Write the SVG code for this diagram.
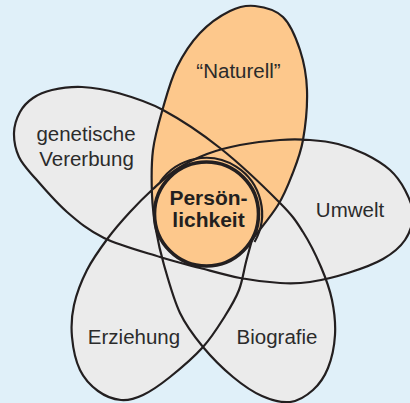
<svg xmlns="http://www.w3.org/2000/svg" xmlns:xlink="http://www.w3.org/1999/xlink" width="410" height="403" viewBox="0 0 410 403">
<style>
.bg{fill:#e0f0f9}
.petal{fill:#ebebeb}
.orange{fill:#fdc88c}
.line{fill:none;stroke:#231f20;stroke-width:2.2;stroke-linejoin:round}
.core{fill:#fdc88c;stroke:#231f20;stroke-width:3.6}
.lbl{font-family:"Liberation Sans",Arial,Helvetica,sans-serif;font-size:20.5px;fill:#2b2b2b;text-anchor:middle}
.core-lbl{font-weight:bold;font-size:21px;fill:#231f20}
</style>
<defs>
<path id="star" d="M 252,240 C 250,247.33 248.17,253.67 246,262 S 242.5,281 239,290 S 231,306.5 225,316 S 212.17,336.83 203,347 S 180,369 170,377 S 151.17,391.17 143,395 S 128.5,400.67 121,400 S 104.83,396 98,391 S 84.33,379 80,370 S 73,347.83 72,337 S 71.5,316.17 74,305 S 81.33,281.17 87,270 S 100.83,247.67 108,238 S 122.5,220.17 130,212 S 145.17,196.17 153,189 S 168,174.83 177,169 S 196.5,158 207,154 S 227.83,147.33 240,145 S 268.33,140.83 280,140 S 300.33,139.33 310,140 S 328.83,141.67 338,144 S 356.33,149.67 365,154 S 383.33,164 390,170 S 401.17,182.67 405,190 S 413,205.67 413,214 S 410,232.5 405,240 S 392.5,253.5 383,259 S 360.17,269.17 348,273 S 321.33,280.33 310,282 S 291.67,283.67 280,283 S 253.33,280.5 240,278 S 213.33,271.5 200,268 S 176,262 160,257 S 119.5,245.5 104,238 S 78.5,222 67,212 S 43,187.17 35,178 S 22.5,164.5 19,157 S 13.83,140.5 14,133 S 16.83,117.83 20,112 S 27.67,101.67 33,98 S 43.83,91.83 52,90 S 71,86.5 82,87 S 104.5,89.17 118,93 S 146,100.83 163,110 S 200.5,132.5 220,148 S 266.17,189 280,203 S 296.17,221.33 303,232 S 316.17,255.67 321,267 S 329.67,288.67 332,300 S 335.67,323.67 335,335 S 331.67,358.83 328,368 S 319.33,384.33 313,390 S 298.5,401 290,402 S 271.5,400.17 262,396 S 242.83,385.17 233,377 S 211.83,357.67 203,347 S 186.5,326.67 180,313 S 168,278.83 164,265 S 158,241.67 156,230 S 152.5,208.33 152,195 S 151.17,164.5 153,150 S 159,121.83 163,108 S 170.83,79.5 177,67 S 191.17,42.33 200,33 S 220.83,15.5 230,11 S 246.17,5 255,6 S 275.5,9.67 283,17 S 296,37.83 300,50 S 306.5,75 307,90 S 305.5,125.83 303,140 S 296.17,164.17 292,175 S 284.67,194.17 278,205 C 271.33,215.83 260.67,228.33 252,240 Z"/>
</defs>
<rect class="bg" x="0" y="0" width="410" height="403"/>
<g id="petal-fills">
<use xlink:href="#star" href="#star" class="petal"/>
</g>
<g id="naturell">
<path class="orange" d="M 156,230 C 154,218.33 152.5,208.33 152,195 S 151.17,164.5 153,150 S 159,121.83 163,108 S 170.83,79.5 177,67 S 191.17,42.33 200,33 S 220.83,15.5 230,11 S 246.17,5 255,6 S 275.5,9.67 283,17 S 296,37.83 300,50 S 306.5,75 307,90 S 305.5,125.83 303,140 S 296.17,164.17 292,175 S 284.67,194.17 278,205 C 271.33,215.83 260.67,228.33 252,240 L 206,214 Z"/>
<text class="lbl" x="238.5" y="78">“Naturell”</text>
</g>
<g id="genetische-vererbung">
<text class="lbl" x="86" y="141">genetische</text>
<text class="lbl" x="86.5" y="166">Vererbung</text>
</g>
<g id="umwelt">
<text class="lbl" x="350" y="217">Umwelt</text>
</g>
<g id="erziehung">
<text class="lbl" x="134" y="344">Erziehung</text>
</g>
<g id="biografie">
<text class="lbl" x="277" y="344">Biografie</text>
</g>
<g id="connectors">
<use xlink:href="#star" href="#star" class="line"/>
<path class="line" d="M 254.5,242 A 56 56 0 0 0 160.1,181.9"/>
</g>
<g id="persoenlichkeit">
<circle class="core" cx="206.5" cy="214" r="52"/>
<text class="lbl core-lbl" x="208.5" y="205">Persön-</text>
<text class="lbl core-lbl" x="208.5" y="227">lichkeit</text>
</g>
</svg>
